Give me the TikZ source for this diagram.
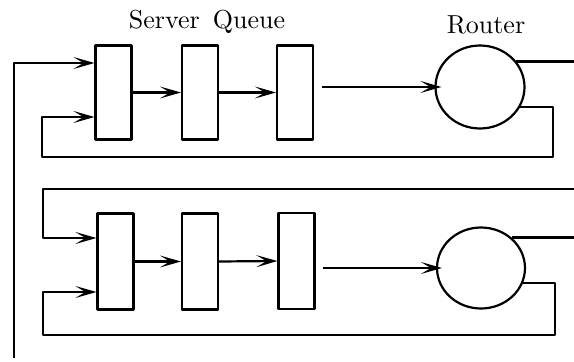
\documentclass[tikz,border=0pt]{standalone}
\usepackage{graphicx}
\usetikzlibrary{arrows.meta,shapes.geometric}
\begin{document}
\begin{tikzpicture}[x=1pt,y=-1pt,
  every path/.style={line width=2.2pt, line join=round},
  arr/.style={-{Stealth[length=21pt,width=12pt,inset=10pt]}},
  qbox/.style={draw, line width=2.2pt, minimum width=36pt, minimum height=94pt, inner sep=0pt},
  router/.style={draw, ellipse, line width=2.2pt, minimum width=89pt, minimum height=83pt, inner sep=0pt},
  lbl/.style={font=\fontsize{10}{12}\selectfont, inner sep=0pt, anchor=base}]
\useasboundingbox (0,0) rectangle (574,362);
% labels
\node[lbl] (lq) at (207,28) {\scalebox{2.6}{Server\hspace{0.5em}Queue}};
\node[lbl] (lr) at (486,33) {\scalebox{2.6}{Router}};
% top row
\node[qbox] (b11) at (113.5,92.5) {};
\node[qbox] (b12) at (200,92.5) {};
\node[qbox] (b13) at (295,92.5) {};
\node[router] (r1) at (480,87) {};
% bottom row
\node[qbox, minimum height=96pt] (b21) at (115.5,261.5) {};
\node[qbox, minimum height=96pt] (b22) at (200,261.5) {};
\node[qbox, minimum height=96pt] (b23) at (296.5,261) {};
\node[router, minimum width=88pt, minimum height=81pt] (r2) at (481,268) {};
% coordinates
\coordinate (inbot) at (14,358);
\coordinate (intop) at (14,63);
\coordinate (t1) at (574,62);
\coordinate (l1a) at (553,157);
\coordinate (l1b) at (42,117);
\coordinate (t2a) at (574,189);
\coordinate (t2b) at (43,238);
\coordinate (t2c) at (574,237);
\coordinate (l2a) at (555,335);
\coordinate (l2b) at (43,292);
% top row connectors
\draw[arr] (inbot) -- (intop) -- (intop -| b11.west);
\draw[arr] (b11.east) -- (b12.west);
\draw[arr] (b12.east) -- (b13.west);
\draw[arr] ([xshift=8pt]b13.east |- r1.west) -- ([xshift=7pt]r1.west);
\draw (r1.35) -- (r1.35 -| t1);
\draw[arr] (r1.-27) -| (l1a) -| (l1b) -- (l1b -| b11.west);
% bottom row connectors
\draw[arr] (t2a) -| (t2b) -- (t2b -| b21.west);
\draw[arr] (b21.east) -- (b22.west);
\draw[arr] (b22.east) -- (b23.west);
\draw[arr] ([xshift=7pt]b23.east |- r2.west) -- ([xshift=6pt]r2.west);
\draw (r2.45) -- (r2.45 -| t2c);
\draw[arr] (r2.-20) -| (l2a) -| (l2b) -- (l2b -| b21.west);
\end{tikzpicture}
\end{document}
